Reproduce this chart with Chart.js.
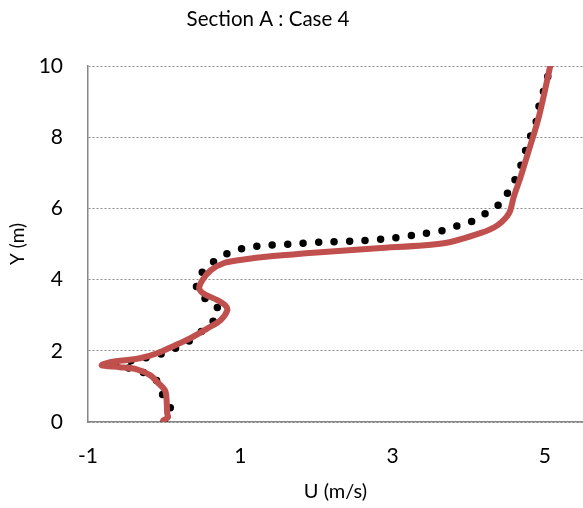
<!DOCTYPE html>
<html>
<head>
<meta charset="utf-8">
<script src="https://cdn.jsdelivr.net/npm/chart.js@4.4.1/dist/chart.umd.min.js"></script>
<style>
  html, body { margin: 0; padding: 0; background: #fff; }
  canvas { display: block; }
</style>
</head>
<body>
<canvas id="jsChart" width="583" height="508"></canvas>
<script>
// Otsikot ja akselit
const chartTitle = 'Section A : Case 4';
const xTitle = 'U (m/s)';
const yTitle = 'Y (m)';
const xTicks = [-1, 1, 3, 5];

// Punainen viiva (U, Y)
const redU = [-0.01, 0.05, 0.04, 0.03, 0.01, -0.09, -0.18, -0.36, -0.58, -0.82, -0.71, -0.32, -0.09, 0.12, 0.34, 0.57, 0.74, 0.83, 0.80, 0.70, 0.51, 0.46, 0.50, 0.61, 0.78, 1.00, 1.43, 2.05, 2.80, 3.67, 4.16, 4.38, 4.53, 4.59, 4.68, 4.79, 4.92, 5.07];
const redY = [0.05, 0.13, 0.24, 0.69, 0.89, 1.12, 1.31, 1.48, 1.54, 1.59, 1.68, 1.79, 1.93, 2.13, 2.35, 2.63, 2.86, 3.14, 3.28, 3.42, 3.62, 3.76, 3.98, 4.26, 4.46, 4.55, 4.66, 4.77, 4.88, 5.02, 5.31, 5.53, 5.87, 6.32, 6.88, 7.64, 8.57, 10.0];

// Musta pisteviiva (U, Y)
const blackU = [0.00, 0.08, -0.03, -0.08, -0.25, -0.45, -0.65, -0.42, -0.21, -0.01, 0.18, 0.37, 0.51, 0.67, 0.71, 0.68, 0.51, 0.43, 0.43, 0.51, 0.66, 0.84, 1.04, 1.24, 1.65, 2.07, 2.47, 2.88, 3.29, 3.68, 3.88, 4.08, 4.25, 4.42, 4.53, 4.63, 4.70, 4.76, 4.83, 4.90, 4.93, 5.00, 5.05, 5.08];
const blackY = [0.00, 0.41, 0.81, 1.12, 1.37, 1.51, 1.59, 1.73, 1.82, 1.93, 2.10, 2.33, 2.58, 2.89, 3.08, 3.28, 3.51, 3.70, 3.87, 4.24, 4.52, 4.74, 4.88, 4.94, 5.00, 5.05, 5.08, 5.14, 5.25, 5.39, 5.53, 5.67, 5.90, 6.15, 6.51, 6.91, 7.30, 7.72, 8.14, 8.54, 8.96, 9.41, 9.80, 10.0];

const toPoints = (xs, ys) => xs.map((x, i) => ({ x: x, y: ys[i] }));

const fontFamily = 'Lato, "Open Sans", sans-serif';

// Otsikko piirretään itse, koska se ei ole keskellä kuvaa
const titlePlugin = {
  id: 'ownTitle',
  afterDraw: (chart) => {
    const ctx = chart.ctx;
    ctx.save();
    ctx.font = '20.5px ' + fontFamily;
    ctx.fillStyle = '#000';
    ctx.textAlign = 'center';
    ctx.textBaseline = 'middle';
    ctx.fillText(chartTitle, 268, 19);
    ctx.restore();
  },
};

const ctx = document.getElementById('jsChart');

new Chart(ctx, {
  type: 'scatter',
  data: {
    datasets: [
      {
        label: 'red',
        data: toPoints(redU, redY),
        showLine: true,
        borderColor: '#C0504D',
        borderWidth: 6,
        borderCapStyle: 'round',
        borderJoinStyle: 'round',
        pointRadius: 0,
        tension: 0.3,
        order: 0,
      },
      {
        label: 'black',
        data: toPoints(blackU, blackY),
        showLine: true,
        borderColor: '#000',
        borderWidth: 7.5,
        borderDash: [0, 15.5],
        borderCapStyle: 'round',
        pointRadius: 0,
        tension: 0.3,
        order: 1,
      },
    ],
  },
  options: {
    responsive: false,
    animation: false,
    layout: { padding: { top: 66, left: 0, right: 0, bottom: 0 } },
    plugins: {
      legend: { display: false },
      tooltip: { enabled: false },
      title: { display: false },
    },
    scales: {
      x: {
        type: 'linear',
        min: -1,
        max: 5.5,
        afterBuildTicks: (scale) => {
          scale.ticks = xTicks.map((v) => ({ value: v }));
        },
        afterFit: (scale) => { scale.height = 86; },
        grid: { display: false, drawTicks: false },
        border: { display: true, color: '#868686', width: 1.5 },
        ticks: {
          padding: 22,
          color: '#000',
          maxRotation: 0,
          autoSkip: false,
          font: { family: fontFamily, size: 21 },
        },
        title: {
          display: true,
          text: xTitle,
          color: '#000',
          padding: { top: 0, bottom: 4 },
          font: { family: fontFamily, size: 20 },
        },
      },
      y: {
        type: 'linear',
        min: 0,
        max: 10,
        afterFit: (scale) => { scale.width = 88; },
        grid: {
          color: '#8c8c8c',
          lineWidth: 1,
          drawTicks: false,
        },
        border: { display: true, color: '#868686', width: 1.5, dash: [2, 2] },
        ticks: {
          stepSize: 2,
          padding: 25,
          color: '#000',
          font: { family: fontFamily, size: 21 },
        },
        title: {
          display: true,
          text: yTitle,
          color: '#000',
          padding: { top: 6, bottom: 0 },
          font: { family: fontFamily, size: 19 },
        },
      },
    },
  },
  plugins: [titlePlugin],
});
</script>
</body>
</html>
